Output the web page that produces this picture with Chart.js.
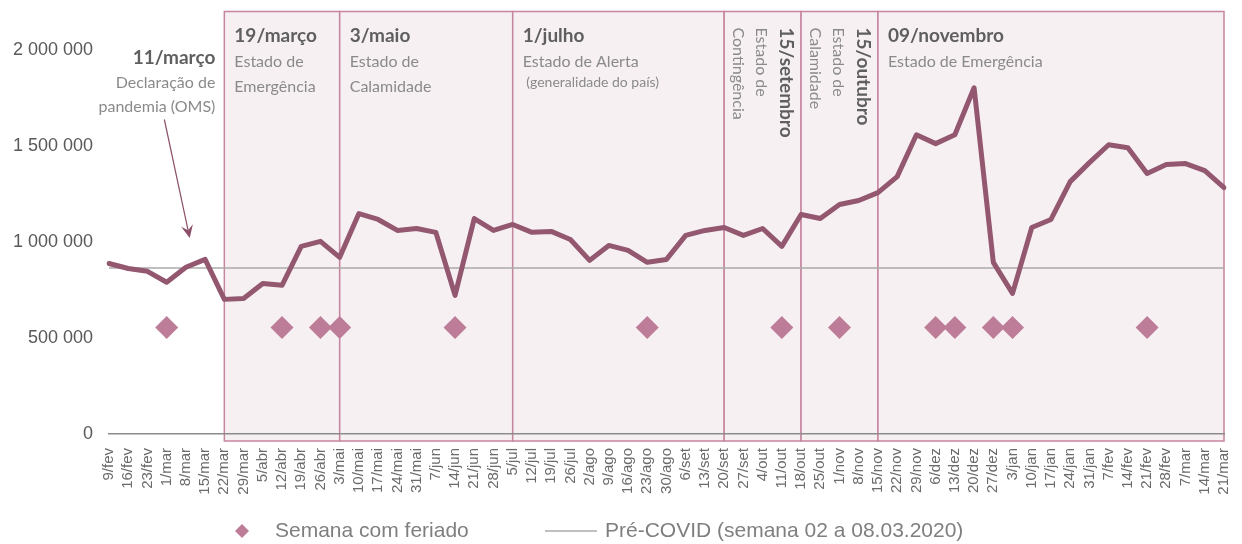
<!DOCTYPE html>
<html>
<head>
<meta charset="utf-8">
<script src="https://cdn.jsdelivr.net/npm/chart.js@4"></script>
<style>
  html, body { margin: 0; padding: 0; background: #fff; }
</style>
</head>
<body>
<canvas id="chart" width="1242" height="544"></canvas>
<script>
const weeks = [
  '9/fev', '16/fev', '23/fev', '1/mar', '8/mar', '15/mar', '22/mar', '29/mar', '5/abr', '12/abr',
  '19/abr', '26/abr', '3/mai', '10/mai', '17/mai', '24/mai', '31/mai', '7/jun', '14/jun', '21/jun',
  '28/jun', '5/jul', '12/jul', '19/jul', '26/jul', '2/ago', '9/ago', '16/ago', '23/ago', '30/ago',
  '6/set', '13/set', '20/set', '27/set', '4/out', '11/out', '18/out', '25/out', '1/nov', '8/nov',
  '15/nov', '22/nov', '29/nov', '6/dez', '13/dez', '20/dez', '27/dez', '3/jan', '10/jan', '17/jan',
  '24/jan', '31/jan', '7/fev', '14/fev', '21/fev', '28/fev', '7/mar', '14/mar', '21/mar'
];

const weeklyValues = [
  888000, 862000, 847000, 790000, 868000, 909000, 701000, 706000, 784000, 774000,
  977000, 1003000, 920000, 1148000, 1117000, 1060000, 1070000, 1050000, 722000, 1122000,
  1060000, 1091000, 1050000, 1055000, 1013000, 904000, 982000, 956000, 894000, 909000,
  1034000, 1060000, 1075000, 1034000, 1070000, 977000, 1143000, 1122000, 1195000, 1216000,
  1257000, 1340000, 1558000, 1512000, 1558000, 1803000, 894000, 732000, 1075000, 1117000,
  1314000, 1413000, 1506000, 1491000, 1356000, 1403000, 1408000, 1371000, 1283000
];

const preCovidLevel = 865000;

const holidayWeeks = ['1/mar', '12/abr', '26/abr', '3/mai', '14/jun', '23/ago', '11/out',
  '1/nov', '6/dez', '13/dez', '27/dez', '3/jan', '21/fev'];
const holidayMarker = 555000;

const yTicks = [0, 500000, 1000000, 1500000, 2000000];
const yMax = 2200000;

// periods (shaded boxes)
const periodStarts = ['22/mar', '3/mai', '5/jul', '20/set', '18/out', '15/nov'];
const periodEnd = '21/mar';
const periodTitles = ['19/março', '3/maio', '1/julho', '15/setembro', '15/outubro', '09/novembro'];
const periodTexts = [
  ['Estado de', 'Emergência'],
  ['Estado de', 'Calamidade'],
  ['Estado de Alerta', ' (generalidade do país)'],
  ['Estado de', 'Contingência'],
  ['Estado de', 'Calamidade'],
  ['Estado de Emergência']
];

// 11 de março
const pandemicTitle = '11/março';
const pandemicTexts = ['Declaração de', 'pandemia (OMS)'];
const pandemicWeek = 4.2;
const pandemicValue = 1020000;

const holidayData = weeks.map(w => holidayWeeks.includes(w) ? holidayMarker : null);
const preCovidData = weeks.map(() => preCovidLevel);

const TITLE_COLOR = '#5f5f5f';
const TEXT_COLOR = '#8a8a8a';
const ANNOT_FONT = 'Lato, "Open Sans", sans-serif';

const periodsPlugin = {
  id: 'periods',
  beforeDraw(chart) {
    const { ctx, scales: { x, y } } = chart;
    const ends = periodStarts.slice(1).concat(periodEnd);
    const top = y.getPixelForValue(yMax);
    const bottom = y.getPixelForValue(0) + 7;
    ctx.save();
    periodStarts.forEach((start, i) => {
      const left = x.getPixelForValue(weeks.indexOf(start));
      const right = x.getPixelForValue(weeks.indexOf(ends[i]));
      ctx.fillStyle = '#f6f0f3';
      ctx.fillRect(left, top, right - left, bottom - top);
      ctx.strokeStyle = '#c6859f';
      ctx.lineWidth = 1.5;
      ctx.strokeRect(left, top, right - left, bottom - top);

      ctx.textAlign = 'left';
      ctx.textBaseline = 'alphabetic';
      if (right - left < 100) {
        // narrow box: vertical text, top to bottom
        ctx.save();
        ctx.translate(left + 56, top + 16);
        ctx.rotate(Math.PI / 2);
        ctx.fillStyle = TITLE_COLOR;
        ctx.font = 'bold 19px ' + ANNOT_FONT;
        ctx.fillText(periodTitles[i], 0, 0);
        ctx.fillStyle = TEXT_COLOR;
        ctx.font = '16px ' + ANNOT_FONT;
        periodTexts[i].forEach((t, k) => ctx.fillText(t, 0, 24 + k * 23));
        ctx.restore();
      } else {
        let ty = top + 30;
        ctx.fillStyle = TITLE_COLOR;
        ctx.font = 'bold 19px ' + ANNOT_FONT;
        ctx.fillText(periodTitles[i], left + 10, ty);
        ctx.fillStyle = TEXT_COLOR;
        periodTexts[i].forEach(t => {
          const size = t.trim().startsWith('(') ? 14 : 16;
          ty += size === 14 ? 20 : 25;
          ctx.font = size + 'px ' + ANNOT_FONT;
          ctx.fillText(t, left + 10, ty);
        });
      }
    });

    // pandemic note
    const ax = x.getPixelForValue(weeks.indexOf(periodStarts[0])) - 9;
    let ay = top + 52;
    ctx.textAlign = 'right';
    ctx.fillStyle = TITLE_COLOR;
    ctx.font = 'bold 19px ' + ANNOT_FONT;
    ctx.fillText(pandemicTitle, ax, ay);
    ctx.fillStyle = TEXT_COLOR;
    ctx.font = '16px ' + ANNOT_FONT;
    pandemicTexts.forEach(t => { ay += 24; ctx.fillText(t, ax, ay); });
    ctx.restore();
  },
  afterDatasetsDraw(chart) {
    const { ctx, scales: { x, y } } = chart;
    const top = y.getPixelForValue(yMax);
    const ax = x.getPixelForValue(weeks.indexOf(periodStarts[0])) - 9;
    const sx = ax - 51, sy = top + 52 + 48 + 8;
    const ex = x.getPixelForValue(pandemicWeek), ey = y.getPixelForValue(pandemicValue);
    const ang = Math.atan2(ey - sy, ex - sx);
    ctx.save();
    ctx.strokeStyle = '#8c4f69';
    ctx.fillStyle = '#8c4f69';
    ctx.lineWidth = 1.2;
    ctx.beginPath();
    ctx.moveTo(sx, sy);
    ctx.lineTo(ex - Math.cos(ang) * 6, ey - Math.sin(ang) * 6);
    ctx.stroke();
    ctx.beginPath();
    ctx.moveTo(ex, ey);
    ctx.lineTo(ex - 13 * Math.cos(ang) + 6 * Math.sin(ang), ey - 13 * Math.sin(ang) - 6 * Math.cos(ang));
    ctx.lineTo(ex - 8 * Math.cos(ang), ey - 8 * Math.sin(ang));
    ctx.lineTo(ex - 13 * Math.cos(ang) - 6 * Math.sin(ang), ey - 13 * Math.sin(ang) + 6 * Math.cos(ang));
    ctx.closePath();
    ctx.fill();
    ctx.restore();
  },
  afterDraw(chart) {
    // legend
    const { ctx } = chart;
    const ly = chart.height - 13;
    ctx.save();
    ctx.fillStyle = '#bd7d98';
    ctx.beginPath();
    ctx.moveTo(242, ly - 7);
    ctx.lineTo(249, ly);
    ctx.lineTo(242, ly + 7);
    ctx.lineTo(235, ly);
    ctx.closePath();
    ctx.fill();
    ctx.strokeStyle = '#aaaaaa';
    ctx.lineWidth = 1.5;
    ctx.beginPath();
    ctx.moveTo(545, ly);
    ctx.lineTo(597, ly);
    ctx.stroke();
    ctx.fillStyle = '#7f7f7f';
    ctx.font = '21px "Liberation Sans", Arial, sans-serif';
    ctx.textBaseline = 'middle';
    ctx.textAlign = 'left';
    ctx.fillText('Semana com feriado', 275, ly);
    ctx.fillText('Pré-COVID (semana 02 a 08.03.2020)', 605, ly);
    ctx.restore();
  }
};

const formatThousands = v => String(v).replace(/\B(?=(\d{3})+(?!\d))/g, ' ');

new Chart(document.getElementById('chart').getContext('2d'), {
  type: 'line',
  data: {
    labels: weeks,
    datasets: [
      {
        label: 'Semana com feriado',
        data: holidayData,
        showLine: false,
        pointStyle: 'rectRot',
        pointRadius: 11.5,
        pointBackgroundColor: '#bd7d98',
        pointBorderWidth: 0,
        order: 0
      },
      {
        label: 'Total',
        data: weeklyValues,
        borderColor: '#935870',
        borderWidth: 5,
        borderJoinStyle: 'round',
        borderCapStyle: 'round',
        pointRadius: 0,
        tension: 0,
        order: 1
      },
      {
        label: 'Pré-COVID (semana 02 a 08.03.2020)',
        data: preCovidData,
        borderColor: '#aaaaaa',
        borderWidth: 1.5,
        pointRadius: 0,
        order: 2
      }
    ]
  },
  options: {
    responsive: false,
    animation: false,
    devicePixelRatio: 1,
    layout: { padding: { left: 0, right: 18, top: 10, bottom: 46 } },
    plugins: { legend: { display: false }, tooltip: { enabled: false } },
    scales: {
      x: {
        offset: false,
        grid: { display: false },
        border: { display: true, color: '#8c8c8c', width: 1.5 },
        ticks: {
          autoSkip: false,
          minRotation: 90,
          maxRotation: 90,
          padding: 6,
          color: '#6b6b6b',
          font: { family: '"Liberation Sans", Arial, sans-serif', size: 15 }
        },
        afterFit: s => { s.height = 64; s.paddingLeft = 0; s.paddingRight = 0; }
      },
      y: {
        min: 0,
        max: yMax,
        grid: { display: false },
        border: { display: false },
        afterBuildTicks: s => { s.ticks = yTicks.map(v => ({ value: v })); },
        ticks: {
          padding: 8,
          color: '#595959',
          font: { family: '"Liberation Sans", Arial, sans-serif', size: 18 },
          callback: v => formatThousands(v)
        },
        afterFit: s => { s.width = 109; s.paddingTop = 0; s.paddingBottom = 0; }
      }
    }
  },
  plugins: [periodsPlugin]
});
</script>
</body>
</html>
